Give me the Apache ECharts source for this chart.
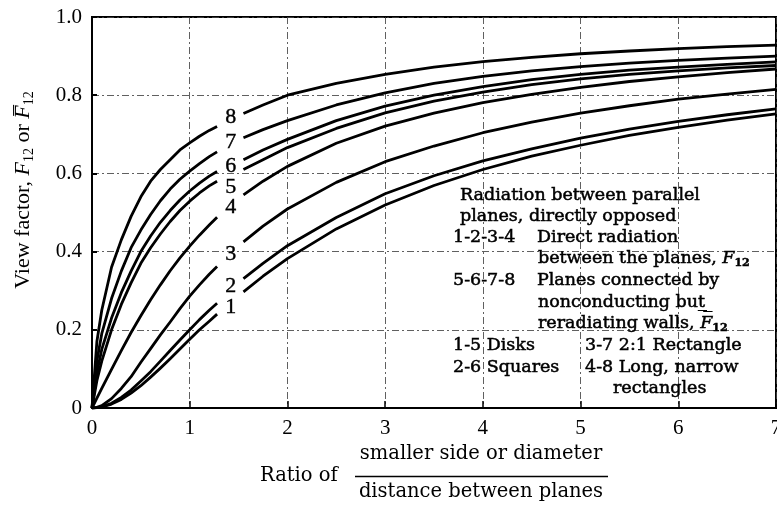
<!DOCTYPE html>
<html>
<head>
<meta charset="utf-8">
<script src="https://cdn.jsdelivr.net/npm/echarts@6/dist/echarts.min.js"></script>
<style>
  html, body { margin: 0; padding: 0; background: #fff; }
  #chart { width: 777px; height: 506px; }
</style>
</head>
<body>
<div id="chart"></div>
<script>
// Ratio of smaller side (or diameter) to plane spacing; 1.42 is the gap left for the curve numbers
const ratio = [0, 0.05, 0.1, 0.2, 0.3, 0.4, 0.5, 0.6, 0.7, 0.8, 0.9, 1.0, 1.1, 1.2, 1.28, 1.42, 1.55, 1.75, 2.0, 2.5, 3.0, 3.5, 4.0, 4.5, 5.0, 5.5, 6.0, 6.5, 7.0];

// Direct radiation between the planes, F12
const curve1 = [0, 0.001, 0.003, 0.01, 0.022, 0.038, 0.057, 0.079, 0.102, 0.126, 0.151, 0.176, 0.2, 0.222, 0.24, null, 0.297, 0.337, 0.382, 0.458, 0.519, 0.569, 0.61, 0.644, 0.672, 0.697, 0.718, 0.736, 0.752];
const curve2 = [0, 0.001, 0.003, 0.012, 0.027, 0.046, 0.069, 0.093, 0.12, 0.147, 0.174, 0.2, 0.226, 0.25, 0.268, null, 0.331, 0.37, 0.415, 0.487, 0.548, 0.594, 0.632, 0.663, 0.69, 0.713, 0.733, 0.75, 0.765];
const curve3 = [0, 0.0015, 0.006, 0.024, 0.05, 0.08, 0.117, 0.152, 0.187, 0.22, 0.254, 0.286, 0.315, 0.342, 0.362, null, 0.425, 0.465, 0.509, 0.577, 0.63, 0.67, 0.704, 0.731, 0.754, 0.773, 0.79, 0.803, 0.815];
const curve4 = [0, 0.025, 0.05, 0.099, 0.147, 0.193, 0.236, 0.277, 0.315, 0.351, 0.384, 0.414, 0.442, 0.468, 0.488, null, 0.545, 0.58, 0.618, 0.677, 0.721, 0.754, 0.781, 0.802, 0.82, 0.835, 0.847, 0.858, 0.867];

// Planes connected by nonconducting but reradiating walls, F12 bar
const curve5 = [0, 0.07, 0.12, 0.2, 0.265, 0.32, 0.37, 0.41, 0.445, 0.477, 0.505, 0.529, 0.55, 0.568, 0.58, null, 0.61, 0.635, 0.666, 0.715, 0.755, 0.785, 0.808, 0.827, 0.842, 0.853, 0.862, 0.87, 0.876];
const curve6 = [0, 0.09, 0.15, 0.23, 0.295, 0.35, 0.4, 0.44, 0.475, 0.505, 0.532, 0.555, 0.575, 0.593, 0.605, null, 0.635, 0.66, 0.687, 0.735, 0.772, 0.8, 0.822, 0.84, 0.853, 0.864, 0.872, 0.879, 0.885];
const curve7 = [0, 0.12, 0.19, 0.28, 0.35, 0.41, 0.455, 0.495, 0.53, 0.56, 0.585, 0.606, 0.625, 0.643, 0.655, null, 0.691, 0.712, 0.735, 0.775, 0.806, 0.83, 0.848, 0.862, 0.873, 0.882, 0.889, 0.895, 0.9];
const curve8 = [0, 0.17, 0.25, 0.36, 0.43, 0.49, 0.54, 0.58, 0.61, 0.635, 0.66, 0.678, 0.695, 0.71, 0.72, null, 0.753, 0.775, 0.8, 0.83, 0.853, 0.872, 0.886, 0.897, 0.906, 0.913, 0.919, 0.924, 0.928];

// Curve numbers, written in the gap of each curve
const curveNames = ['1', '2', '3', '4', '5', '6', '7', '8'];
const curveNameX = 1.42;
const curveNameY = [0.258, 0.312, 0.394, 0.514, 0.565, 0.618, 0.68, 0.744];

// Axis ticks
const xTicks = [0, 1, 2, 3, 4, 5, 6, 7];
const yTicks = [0, 0.2, 0.4, 0.6, 0.8, 1.0];

const curves = [curve1, curve2, curve3, curve4, curve5, curve6, curve7, curve8];

const SERIF = "'Liberation Serif', 'Times New Roman', serif";
const BOOK = "'DejaVu Serif', 'Liberation Serif', serif";

const chart = echarts.init(document.getElementById('chart'), null, { renderer: 'canvas' });

const lineSeries = curves.map((vals, k) => ({
  name: 'curve ' + curveNames[k],
  type: 'line',
  data: ratio.map((x, i) => [x, vals[i] === null ? '-' : vals[i]]),
  showSymbol: false,
  smooth: false,
  connectNulls: false,
  silent: true,
  lineStyle: { color: '#000', width: 2.8, join: 'round', cap: 'butt' },
  z: 3
}));

const nameSeries = {
  type: 'scatter',
  symbolSize: 0,
  silent: true,
  itemStyle: { opacity: 1, color: '#000' },
  data: curveNames.map((n, k) => [curveNameX, curveNameY[k], n]),
  label: {
    show: true,
    position: 'inside',
    formatter: p => p.data[2],
    color: '#000',
    opacity: 1,
    textBorderColor: '#000',
    textBorderWidth: 0.4,
    fontFamily: SERIF,
    fontSize: 22
  },
  z: 4
};

// Explanatory text block on the right
const noteFont = { fontFamily: BOOK, fontSize: 17.5, fill: '#000', stroke: '#000', lineWidth: 0.5 };
const noteRich = {
  i: { fontFamily: BOOK, fontSize: 17.5, fontStyle: 'italic', lineHeight: 22, verticalAlign: 'middle' },
  s: { fontFamily: BOOK, fontSize: 11, fontWeight: 'bold', lineHeight: 10, verticalAlign: 'bottom' },
  n: { fontFamily: BOOK, fontSize: 17.5, lineHeight: 22 }
};
const noteLines = [
  [460, 195, 'Radiation between parallel'],
  [460, 216, 'planes, directly opposed'],
  [453, 237, '1-2-3-4'],
  [537, 237, 'Direct radiation'],
  [538, 258, '{n|between the planes, }{i|F}{s|12}'],
  [453, 280, '5-6-7-8'],
  [537, 280, 'Planes connected by'],
  [538, 302, 'nonconducting but\u0332'],
  [538, 323, '{n|reradiating walls, }{i|F\u0305}{s|12}'],
  [453, 345, '1-5 Disks'],
  [585, 345, '3-7 2:1 Rectangle'],
  [453, 367, '2-6 Squares'],
  [585, 367, '4-8 Long, narrow'],
  [613, 388, 'rectangles']
];

const graphics = noteLines.map(([x, y, t]) => ({
  type: 'text',
  x: x, y: y,
  silent: true,
  style: Object.assign({
    text: t,
    rich: noteRich,
    align: 'left',
    verticalAlign: 'middle'
  }, noteFont),
  z: 10
}));

// Vertical axis title
graphics.push({
  type: 'text',
  x: 23, y: 190,
  rotation: Math.PI / 2,
  silent: true,
  style: {
    text: '{n|View factor, }{i|F}{s|12}{n| or }{i|F\u0305}{s|12}',
    align: 'center',
    verticalAlign: 'middle',
    fill: '#000',
    rich: {
      n: { fontFamily: SERIF, fontSize: 22, lineHeight: 26 },
      i: { fontFamily: SERIF, fontSize: 22, fontStyle: 'italic', lineHeight: 26 },
      s: { fontFamily: SERIF, fontSize: 14, lineHeight: 14, verticalAlign: 'bottom' }
    }
  }
});

// Horizontal axis title as a fraction
graphics.push(
  {
    type: 'text', x: 260, y: 476, silent: true,
    style: { text: 'Ratio of', fontFamily: BOOK, fontSize: 19.5, fill: '#000', align: 'left', verticalAlign: 'middle' }
  },
  {
    type: 'text', x: 481, y: 454, silent: true,
    style: { text: 'smaller side or diameter', fontFamily: BOOK, fontSize: 19.5, fill: '#000', align: 'center', verticalAlign: 'middle' }
  },
  {
    type: 'line', silent: true,
    shape: { x1: 355, y1: 476.5, x2: 608, y2: 476.5 },
    style: { stroke: '#000', lineWidth: 1.6 }
  },
  {
    type: 'text', x: 481, y: 492, silent: true,
    style: { text: 'distance between planes', fontFamily: BOOK, fontSize: 19.5, fill: '#000', align: 'center', verticalAlign: 'middle' }
  }
);

const gridLine = { color: '#444', width: 1, type: [7, 3, 2, 3], opacity: 0.85 };

chart.setOption({
  backgroundColor: '#fff',
  animation: false,
  grid: {
    left: 92, right: 1, top: 17, bottom: 98,
    outerBoundsMode: 'none',
    containLabel: false,
    show: true, borderColor: '#000', borderWidth: 2, backgroundColor: 'transparent'
  },
  xAxis: {
    type: 'value',
    min: xTicks[0], max: xTicks[xTicks.length - 1], interval: 1,
    axisLine: { show: true, lineStyle: { color: '#000', width: 2 } },
    axisTick: { show: true, inside: true, length: 7, lineStyle: { color: '#000', width: 1.5 } },
    axisLabel: {
      color: '#000', fontFamily: SERIF, fontSize: 21, margin: 10,
      hideOverlap: false,
      formatter: v => String(v)
    },
    splitLine: { show: true, lineStyle: gridLine }
  },
  yAxis: {
    type: 'value',
    min: yTicks[0], max: yTicks[yTicks.length - 1], interval: 0.2,
    axisLine: { show: true, lineStyle: { color: '#000', width: 2 } },
    axisTick: { show: true, inside: true, length: 5, lineStyle: { color: '#000', width: 2 } },
    axisLabel: {
      color: '#000', fontFamily: SERIF, fontSize: 21, margin: 10,
      formatter: v => (v === 0 ? '0' : v.toFixed(1))
    },
    splitLine: { show: true, lineStyle: gridLine }
  },
  series: lineSeries.concat([nameSeries]),
  graphic: graphics
});
</script>
</body>
</html>
